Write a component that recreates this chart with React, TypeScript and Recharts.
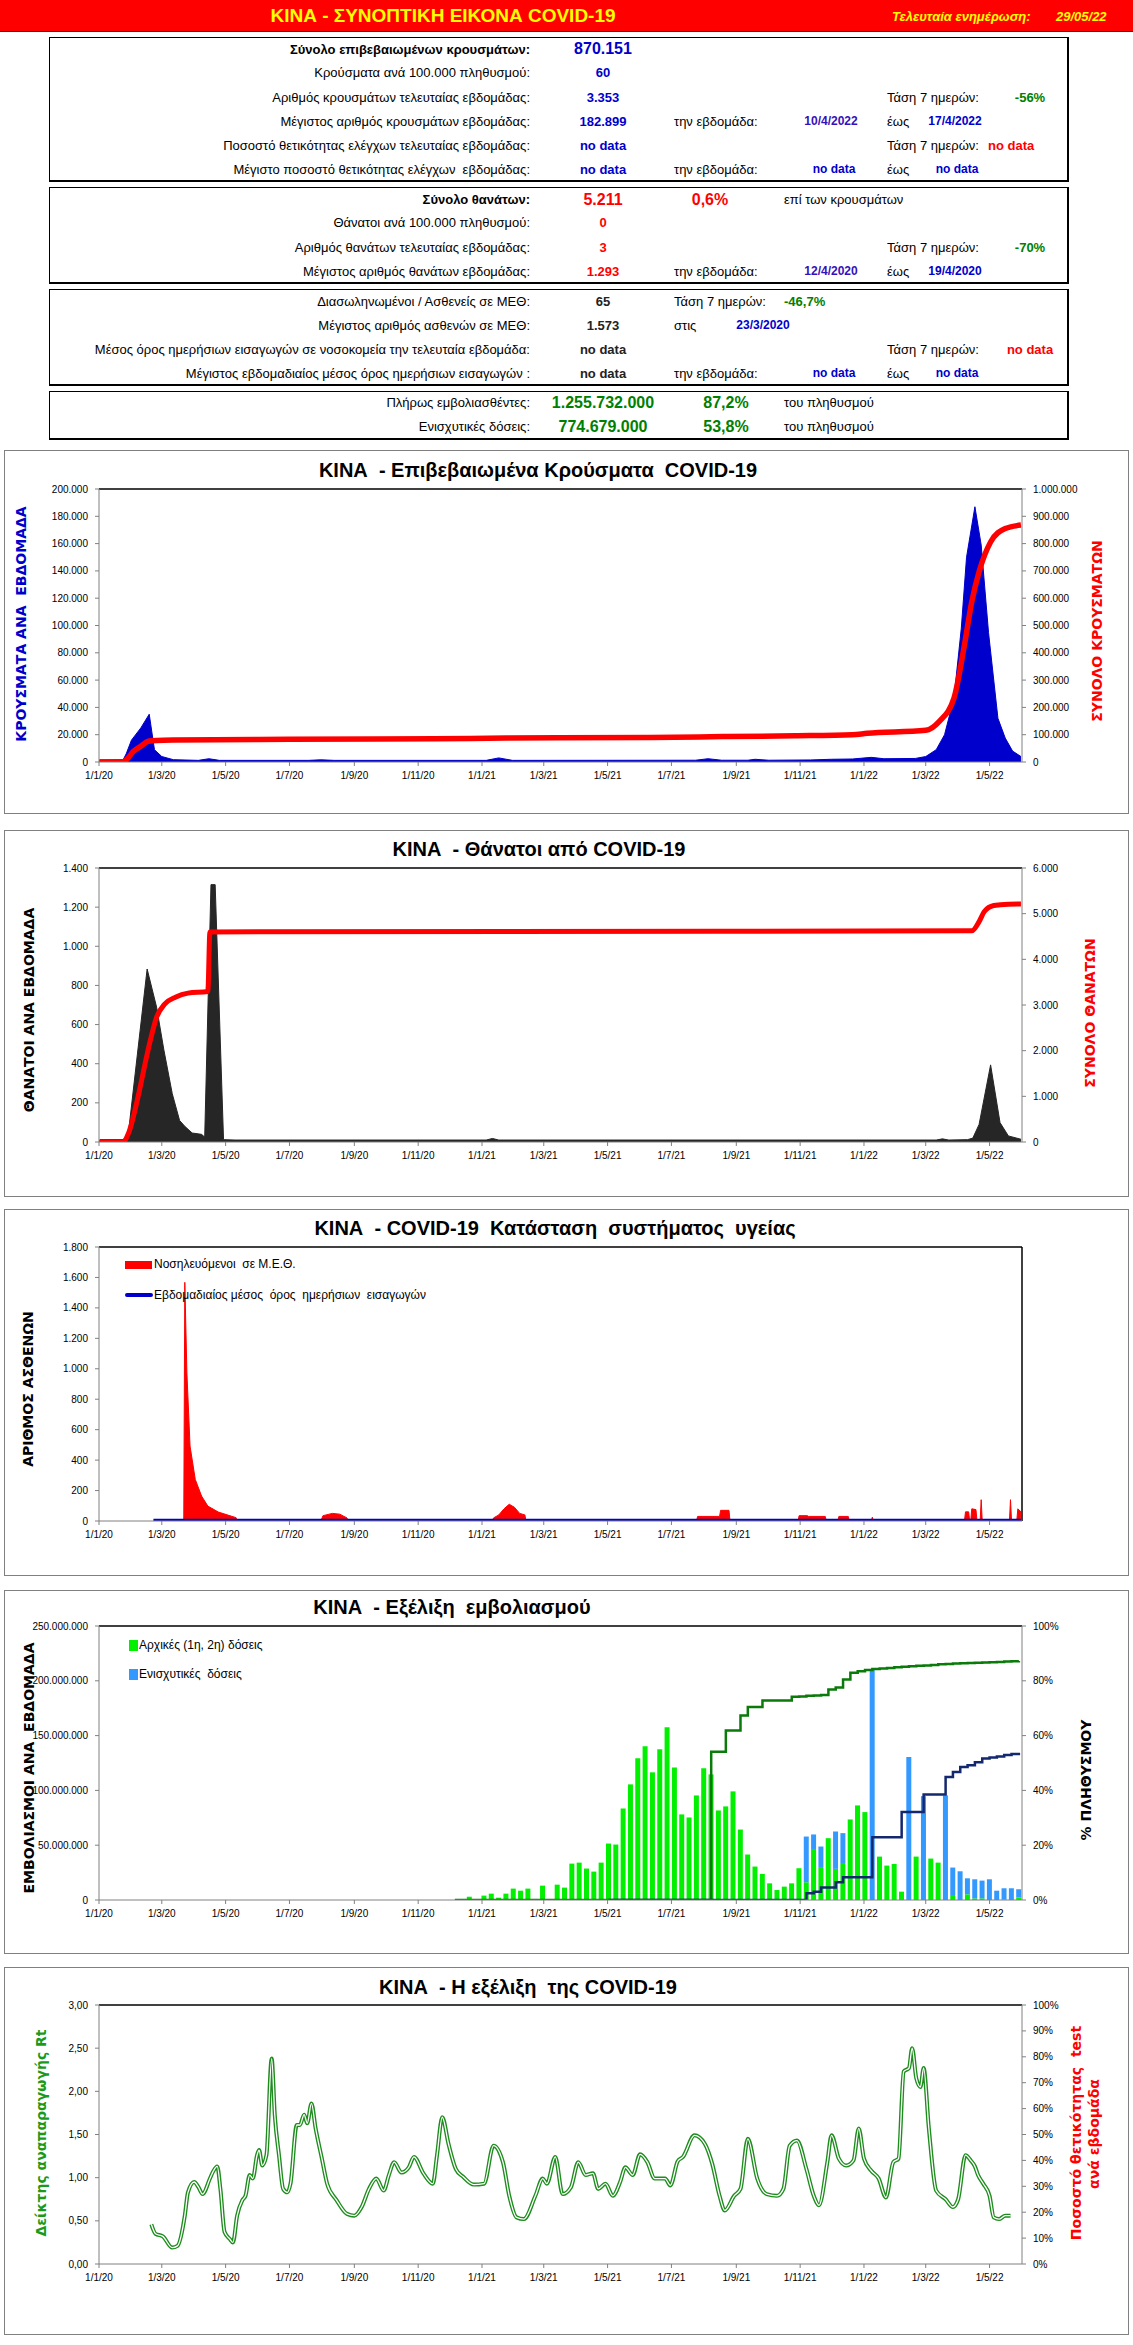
import React from "react";
import { ComposedChart, Area, Line, Bar, XAxis, YAxis, ReferenceLine } from "recharts";

// x axis is "days since 1/1/2020"
const monthTicks = [0, 60, 121, 182, 244, 305, 366, 425, 486, 547, 609, 670, 731, 790, 851];
const monthLabels = ["1/1/20", "1/3/20", "1/5/20", "1/7/20", "1/9/20", "1/11/20", "1/1/21", "1/3/21", "1/5/21", "1/7/21", "1/9/21", "1/11/21", "1/1/22", "1/3/22", "1/5/22"];
const lastDay = 882;

// chart 1 - cases
const caseDays = [1, 23, 26, 31, 40, 48, 53, 60, 71, 95, 105, 115, 200, 212, 225, 370, 382, 395, 570, 582, 595, 620, 627, 640, 680, 700, 720, 738, 750, 780, 790, 800, 808, 817, 824, 829, 837, 843, 850, 859, 866, 873, 881];
const weeklyCases = [1500, 1500, 6000, 16000, 25000, 35000, 9000, 4000, 1700, 1200, 2400, 1200, 1200, 1600, 1200, 1200, 3000, 1200, 1300, 2400, 1300, 1300, 2000, 1300, 1500, 2000, 2200, 3400, 2400, 2600, 4000, 9000, 20000, 47000, 98000, 150000, 187000, 159000, 95000, 32000, 17500, 8000, 4000];
const totalCaseDays = [0, 23, 26, 33, 40, 47, 55, 71, 182, 320, 389, 527, 596, 665, 720, 734, 790, 803, 817, 827, 834, 841, 852, 866, 881];
const totalCases = [0, 500, 8000, 39000, 58000, 76000, 79000, 80500, 83000, 85000, 88000, 90000, 93000, 96000, 100000, 105000, 116000, 149000, 234000, 429000, 587000, 697000, 806000, 855000, 868000];

// chart 2 - deaths
const deathDays = [1, 23, 28, 46, 55, 62, 70, 77, 82, 89, 98, 101, 107, 111, 119, 130, 370, 376, 382, 800, 806, 812, 830, 835, 841, 852, 861, 869, 881];
const weeklyDeaths = [12, 12, 42, 884, 690, 470, 247, 110, 80, 46, 39, 25, 1315, 1315, 12, 10, 10, 18, 10, 10, 16, 10, 12, 20, 90, 394, 99, 31, 14];
const totalDeathDays = [0, 23, 28, 38, 44, 49, 55, 63, 73, 85, 104, 106, 834, 841, 846, 855, 869, 881];
const totalDeaths = [0, 0, 180, 1060, 1710, 2220, 2730, 3025, 3170, 3260, 3295, 4600, 4625, 4826, 5046, 5178, 5208, 5211];

// chart 3 - ICU
const icuDays = [81, 82, 84, 87, 92, 98, 104, 114, 124, 131, 132, 212, 214, 223, 230, 237, 238, 376, 377, 382, 387, 392, 397, 402, 407, 408, 571, 572, 593, 594, 602, 603, 668, 669, 677, 678, 694, 695, 706, 707, 716, 717, 738, 739, 740, 827, 828, 831, 832, 833, 834, 838, 839, 842, 843, 844, 870, 871, 872, 877, 878, 881];
const icuPatients = [0, 1568, 973, 492, 273, 164, 98, 59, 37, 22, 0, 0, 35, 50, 45, 20, 0, 0, 20, 40, 80, 110, 90, 50, 40, 0, 0, 30, 30, 70, 70, 0, 0, 35, 35, 30, 30, 0, 0, 30, 30, 0, 0, 25, 0, 0, 60, 60, 0, 0, 80, 75, 0, 0, 140, 0, 0, 140, 0, 0, 80, 60];
const admitDays = [52, 881];
const admissions = [0, 0];

// chart 4 - vaccination, weekly (doses in millions, coverage in %)
const vaxWeeks = Array.from({ length: 78 }, (_, i) => 340 + 7 * i);
const initialDoses = [0, 0, 3.0, 0, 4.0, 5.8, 2.1, 5.8, 10.4, 8.5, 10.4, 0, 13.1, 0, 14.0, 11.3, 33.2, 34.1, 28.7, 25.9, 34.1, 51.5, 50.6, 83.5, 105.5, 129.3, 140.3, 116.5, 137.5, 157.6, 121.0, 78.1, 75.3, 95.4, 120.1, 114.6, 81.7, 85.4, 99.1, 64.3, 41.5, 30.5, 23.8, 15.2, 9.1, 12.2, 15.2, 29.0, 16.2, 45.7, 29.3, 56.4, 28.4, 32.9, 73.5, 86.3, 80.2, 0, 39.6, 31.4, 32.9, 7.6, 0, 39.6, 0, 37.8, 34.1, 0, 3.7, 0, 5.2, 1.5, 1.5, 0, 0, 0.6, 0, 2.4];
const boosterDoses = [0, 0, 0, 0, 0, 0, 0, 0, 0, 0, 0, 0, 0, 0, 0, 0, 0, 0, 0, 0, 0, 0, 0, 0, 0, 0, 0, 0, 0, 0, 0, 0, 0, 0, 0, 0, 0, 0, 0, 0, 0, 0, 0, 0, 0, 0, 0, 0, 41.7, 14.1, 19.5, 0, 34.1, 28.1, 0, 0, 0, 209.8, 0, 0, 0, 0, 130.5, 0, 94.8, 0, 0, 95.4, 25.9, 26.2, 14.6, 17.4, 16.2, 18.9, 8.5, 10.1, 10.7, 7.4];
const fullyPct = [0, 0, 0, 0, 0, 0, 0, 0, 0, 0, 0, 0, 0, 0, 0, 0, 0, 0, 0, 0, 0, 0, 0, 0, 0, 0, 0, 0, 0, 0, 0, 0, 0, 0, 0, 54.1, 54.1, 61.9, 61.9, 67.3, 70.4, 70.4, 72.8, 72.8, 72.8, 72.8, 74.2, 74.3, 74.5, 74.6, 74.8, 76.8, 77.6, 80.5, 82.9, 83.5, 83.9, 84.3, 84.5, 84.7, 84.9, 85.1, 85.3, 85.5, 85.6, 85.8, 86.0, 86.1, 86.3, 86.4, 86.5, 86.6, 86.7, 86.8, 86.9, 87.0, 87.1, 87.2];
const boosterPct = [null, null, null, null, null, null, null, null, null, null, null, null, null, null, null, null, null, null, null, null, null, 0, 0, 0, 0, 0, 0, 0, 0, 0, 0, 0, 0, 0, 0, 0, 0, 0, 0, 0, 0, 0, 0, 0, 0, 0, 0, 0, 2.5, 3.0, 4.6, 4.6, 6.5, 8.3, 8.3, 8.3, 8.3, 22.9, 22.9, 22.9, 22.9, 32.1, 32.1, 32.1, 38.5, 38.5, 38.5, 44.9, 46.7, 48.5, 49.2, 50.3, 51.6, 52.0, 52.4, 52.9, 53.3, 53.7];

// chart 5 - Rt
const rtDays = [50, 54, 61, 70, 75, 82, 85, 91, 95, 99, 106, 109, 113, 116, 120, 125, 128, 132, 137, 140, 144, 147, 151, 153, 156, 160, 165, 168, 172, 176, 180, 183, 189, 192, 196, 199, 203, 207, 213, 218, 227, 237, 244, 251, 258, 265, 272, 277, 282, 289, 296, 301, 310, 319, 323, 328, 334, 341, 348, 358, 368, 377, 386, 392, 399, 406, 417, 424, 428, 436, 443, 451, 458, 465, 472, 477, 484, 491, 498, 503, 510, 517, 524, 531, 541, 546, 553, 558, 569, 579, 586, 593, 598, 607, 613, 620, 629, 638, 648, 654, 660, 667, 676, 683, 688, 696, 700, 707, 714, 721, 726, 731, 738, 745, 752, 759, 764, 769, 774, 777, 781, 785, 788, 793, 800, 809, 816, 821, 828, 833, 837, 840, 845, 851, 855, 860, 866, 871];
const rtValues = [0.46, 0.35, 0.32, 0.19, 0.21, 0.56, 0.83, 0.95, 0.89, 0.81, 0.99, 1.07, 1.13, 0.87, 0.37, 0.29, 0.25, 0.56, 0.74, 0.79, 1.03, 0.99, 1.26, 1.32, 1.14, 1.26, 2.38, 1.72, 1.26, 0.87, 0.83, 0.93, 1.61, 1.61, 1.73, 1.63, 1.86, 1.57, 1.22, 0.93, 0.74, 0.58, 0.56, 0.66, 0.87, 0.99, 0.85, 1.03, 1.18, 1.06, 1.12, 1.24, 1.05, 0.93, 1.26, 1.7, 1.39, 1.1, 1.01, 0.92, 0.93, 1.37, 1.18, 0.79, 0.54, 0.52, 0.79, 0.99, 0.93, 1.24, 0.81, 0.89, 1.18, 1.03, 1.05, 0.87, 0.93, 0.79, 0.95, 1.12, 1.03, 1.27, 1.18, 0.99, 0.99, 0.91, 1.19, 1.24, 1.49, 1.39, 1.16, 0.79, 0.62, 0.79, 0.87, 1.45, 0.99, 0.81, 0.79, 0.87, 1.37, 1.43, 1.1, 0.79, 0.68, 1.18, 1.49, 1.22, 1.14, 1.2, 1.57, 1.22, 1.08, 0.99, 0.77, 1.18, 1.22, 2.23, 2.27, 2.5, 2.15, 2.05, 2.27, 1.57, 0.85, 0.75, 0.66, 0.75, 1.26, 1.2, 1.13, 1.03, 0.93, 0.79, 0.54, 0.52, 0.56, 0.56];

// axis ticks
const caseTicks = [0, 20000, 40000, 60000, 80000, 100000, 120000, 140000, 160000, 180000, 200000];
const totalCaseTicks = [0, 100000, 200000, 300000, 400000, 500000, 600000, 700000, 800000, 900000, 1000000];
const deathTicks = [0, 200, 400, 600, 800, 1000, 1200, 1400];
const totalDeathTicks = [0, 1000, 2000, 3000, 4000, 5000, 6000];
const icuTicks = [0, 200, 400, 600, 800, 1000, 1200, 1400, 1600, 1800];
const doseTicks = [0, 50, 100, 150, 200, 250];
const pct20Ticks = [0, 20, 40, 60, 80, 100];
const rtTicks = [0, 0.5, 1, 1.5, 2, 2.5, 3];
const pct10Ticks = [0, 10, 20, 30, 40, 50, 60, 70, 80, 90, 100];

type Series = Record<string, [number[], (number | null)[]]>;
function buildRows(series: Series) {
  const map = new Map<number, any>();
  for (const key of Object.keys(series)) {
    const [days, vals] = series[key];
    days.forEach((d, i) => {
      const row = map.get(d) ?? { day: d };
      row[key] = vals[i];
      map.set(d, row);
    });
  }
  return [...map.values()].sort((a, b) => a.day - b.day);
}

const casesRows = buildRows({ weekly: [caseDays, weeklyCases], total: [totalCaseDays, totalCases] });
const deathRows = buildRows({ weekly: [deathDays, weeklyDeaths], total: [totalDeathDays, totalDeaths] });
const icuRows = buildRows({ icu: [icuDays, icuPatients], admit: [admitDays, admissions] });
const vaxRows = buildRows({ initial: [vaxWeeks, initialDoses], booster: [vaxWeeks, boosterDoses], full: [vaxWeeks, fullyPct], boost: [vaxWeeks, boosterPct] });
const rtRows = buildRows({ rt: [rtDays, rtValues] });

const FONT = "'Liberation Sans', Arial, sans-serif";
const axisStroke = "#808080";
const tickStyle = { fontSize: 10, fill: "#000", fontFamily: FONT };
const dots = (n: number) => Math.round(n).toString().replace(/\B(?=(\d{3})+(?!\d))/g, ".");
const dayLabel = (d: number) => {
  const i = monthTicks.indexOf(d);
  return i >= 0 ? monthLabels[i] : "";
};

function timeAxis() {
  return (
    <XAxis
      dataKey="day"
      type="number"
      domain={[0, lastDay]}
      ticks={monthTicks}
      tickFormatter={dayLabel}
      allowDataOverflow
      interval={0}
      tick={tickStyle}
      tickLine={{ stroke: axisStroke }}
      axisLine={{ stroke: axisStroke }}
      tickSize={4}
      tickMargin={6}
      height={30}
    />
  );
}

function valueAxis(id: string, side: "left" | "right", max: number, ticks: number[], fmt: (v: number) => string) {
  return (
    <YAxis
      yAxisId={id}
      orientation={side}
      type="number"
      domain={[0, max]}
      ticks={ticks}
      interval={0}
      allowDataOverflow
      tickFormatter={fmt}
      tick={tickStyle}
      tickLine={{ stroke: axisStroke }}
      axisLine={{ stroke: axisStroke }}
      tickSize={4}
      tickMargin={7}
      width={side === "left" ? 94 : 80}
    />
  );
}

type TProps = { x: number; y: number; align?: "left" | "right" | "center"; color?: string; size?: number; bold?: boolean; italic?: boolean; children: React.ReactNode };
function T({ x, y, align = "left", color = "#000", size = 13, bold, italic, children }: TProps) {
  const tx = align === "left" ? "0" : align === "right" ? "-100%" : "-50%";
  return (
    <div style={{ position: "absolute", left: x, top: y, transform: `translate(${tx}, -50%)`, color, fontSize: size, fontWeight: bold ? 700 : 400, fontStyle: italic ? "italic" : "normal", whiteSpace: "pre", lineHeight: 1.15, fontFamily: FONT }}>
      {children}
    </div>
  );
}

function VText({ x, y, color = "#000", size = 14, children }: { x: number; y: number; color?: string; size?: number; children: React.ReactNode }) {
  return (
    <div style={{ position: "absolute", left: x, top: y, transform: "translate(-50%, -50%) rotate(-90deg)", color, fontSize: size, fontWeight: 700, whiteSpace: "pre", lineHeight: 1.1, fontFamily: "'DejaVu Sans', Verdana, sans-serif" }}>
      {children}
    </div>
  );
}

function Frame({ top, height, children }: { top: number; height: number; children: React.ReactNode }) {
  return (
    <div style={{ position: "absolute", left: 4, top, width: 1125, height, border: "1px solid #808080", boxSizing: "border-box", background: "#fff" }}>
      {children}
    </div>
  );
}

function Box({ top, bottom }: { top: number; bottom: number }) {
  return <div style={{ position: "absolute", left: 49, top, width: 1020, height: bottom - top, borderStyle: "solid", borderColor: "#000", borderWidth: "1px 2px 2px 1px", boxSizing: "border-box" }} />;
}

const BLUE = "#0000CC";
const DATE = "#3311BB";
const GREEN = "#008000";
const RED = "#FF0000";
const LBL = 530;
const VAL = 603;

export default function App() {
  return (
    <div style={{ position: "relative", width: 1133, height: 2345, background: "#fff", overflow: "hidden", fontFamily: FONT }}>
      <style>{`body{margin:0}`}</style>

      {/* summary header */}
      <div style={{ position: "absolute", left: 0, top: 0, width: 1133, height: 31, background: "#FF0000", borderBottom: "1px solid #700" }} />
      <T x={443} y={16} align="center" color="#FFFF00" size={19} bold>ΚΙΝΑ - ΣΥΝΟΠΤΙΚΗ ΕΙΚΟΝΑ COVID-19</T>
      <T x={892} y={17} color="#FFFF00" size={13} bold italic>Τελευταία ενημέρωση:</T>
      <T x={1056} y={17} color="#FFFF00" size={13} bold italic>29/05/22</T>

      <Box top={37} bottom={182} />
      <T x={LBL} y={50} align="right" bold>Σύνολο επιβεβαιωμένων κρουσμάτων:</T>
      <T x={VAL} y={49} align="center" color={BLUE} size={16} bold>870.151</T>
      <T x={LBL} y={73} align="right">Κρούσματα ανά 100.000 πληθυσμού:</T>
      <T x={VAL} y={73} align="center" color={BLUE} bold>60</T>
      <T x={LBL} y={98} align="right">Αριθμός κρουσμάτων τελευταίας εβδομάδας:</T>
      <T x={VAL} y={98} align="center" color={BLUE} bold>3.353</T>
      <T x={887} y={98}>Τάση 7 ημερών:</T>
      <T x={1030} y={98} align="center" color={GREEN} bold>-56%</T>
      <T x={LBL} y={122} align="right">Μέγιστος αριθμός κρουσμάτων εβδομάδας:</T>
      <T x={VAL} y={122} align="center" color={BLUE} bold>182.899</T>
      <T x={674} y={122}>την εβδομάδα:</T>
      <T x={831} y={122} align="center" color={DATE} size={12} bold>10/4/2022</T>
      <T x={887} y={122}>έως</T>
      <T x={955} y={122} align="center" color={BLUE} size={12} bold>17/4/2022</T>
      <T x={LBL} y={146} align="right">Ποσοστό θετικότητας ελέγχων τελευταίας εβδομάδας:</T>
      <T x={VAL} y={146} align="center" color={BLUE} bold>no data</T>
      <T x={887} y={146}>Τάση 7 ημερών:</T>
      <T x={988} y={146} color={RED} bold>no data</T>
      <T x={LBL} y={170} align="right">Μέγιστο ποσοστό θετικότητας ελέγχων  εβδομάδας:</T>
      <T x={VAL} y={170} align="center" color={BLUE} bold>no data</T>
      <T x={674} y={170}>την εβδομάδα:</T>
      <T x={834} y={170} align="center" color={BLUE} size={12} bold>no data</T>
      <T x={887} y={170}>έως</T>
      <T x={957} y={170} align="center" color={BLUE} size={12} bold>no data</T>

      <Box top={187} bottom={284} />
      <T x={LBL} y={200} align="right" bold>Σύνολο θανάτων:</T>
      <T x={VAL} y={200} align="center" color={RED} size={16} bold>5.211</T>
      <T x={710} y={200} align="center" color={RED} size={16} bold>0,6%</T>
      <T x={784} y={200}>επί των κρουσμάτων</T>
      <T x={LBL} y={223} align="right">Θάνατοι ανά 100.000 πληθυσμού:</T>
      <T x={VAL} y={223} align="center" color={RED} bold>0</T>
      <T x={LBL} y={248} align="right">Αριθμός θανάτων τελευταίας εβδομάδας:</T>
      <T x={VAL} y={248} align="center" color={RED} bold>3</T>
      <T x={887} y={248}>Τάση 7 ημερών:</T>
      <T x={1030} y={248} align="center" color={GREEN} bold>-70%</T>
      <T x={LBL} y={272} align="right">Μέγιστος αριθμός θανάτων εβδομάδας:</T>
      <T x={VAL} y={272} align="center" color={RED} bold>1.293</T>
      <T x={674} y={272}>την εβδομάδα:</T>
      <T x={831} y={272} align="center" color={DATE} size={12} bold>12/4/2020</T>
      <T x={887} y={272}>έως</T>
      <T x={955} y={272} align="center" color={BLUE} size={12} bold>19/4/2020</T>

      <Box top={289} bottom={386} />
      <T x={LBL} y={302} align="right">Διασωληνωμένοι / Ασθενείς σε ΜΕΘ:</T>
      <T x={VAL} y={302} align="center" color="#222" bold>65</T>
      <T x={674} y={302}>Τάση 7 ημερών:</T>
      <T x={784} y={302} color={GREEN} bold>-46,7%</T>
      <T x={LBL} y={326} align="right">Μέγιστος αριθμός ασθενών σε ΜΕΘ:</T>
      <T x={VAL} y={326} align="center" color="#222" bold>1.573</T>
      <T x={674} y={326}>στις</T>
      <T x={763} y={326} align="center" color={BLUE} size={12} bold>23/3/2020</T>
      <T x={LBL} y={350} align="right">Μέσος όρος ημερήσιων εισαγωγών σε νοσοκομεία την τελευταία εβδομάδα:</T>
      <T x={VAL} y={350} align="center" color="#222" bold>no data</T>
      <T x={887} y={350}>Τάση 7 ημερών:</T>
      <T x={1030} y={350} align="center" color={RED} bold>no data</T>
      <T x={LBL} y={374} align="right">Μέγιστος εβδομαδιαίος μέσος όρος ημερήσιων εισαγωγών :</T>
      <T x={VAL} y={374} align="center" color="#222" bold>no data</T>
      <T x={674} y={374}>την εβδομάδα:</T>
      <T x={834} y={374} align="center" color={BLUE} size={12} bold>no data</T>
      <T x={887} y={374}>έως</T>
      <T x={957} y={374} align="center" color={BLUE} size={12} bold>no data</T>

      <Box top={391} bottom={440} />
      <T x={LBL} y={403} align="right">Πλήρως εμβολιασθέντες:</T>
      <T x={VAL} y={403} align="center" color={GREEN} size={16} bold>1.255.732.000</T>
      <T x={726} y={403} align="center" color={GREEN} size={16} bold>87,2%</T>
      <T x={784} y={403}>του πληθυσμού</T>
      <T x={LBL} y={427} align="right">Ενισχυτικές δόσεις:</T>
      <T x={VAL} y={427} align="center" color={GREEN} size={16} bold>774.679.000</T>
      <T x={726} y={427} align="center" color={GREEN} size={16} bold>53,8%</T>
      <T x={784} y={427}>του πληθυσμού</T>

      {/* chart 1: cases */}
      <Frame top={450} height={364}>
        <ComposedChart width={1123} height={362} data={casesRows} margin={{ top: 38, right: 26, bottom: 21, left: 0 }}>
          {timeAxis()}
          {valueAxis("left", "left", 200000, caseTicks, dots)}
          {valueAxis("right", "right", 1000000, totalCaseTicks, dots)}
          <ReferenceLine yAxisId="left" y={200000} stroke="#000" strokeWidth={1.5} />
          <Area yAxisId="left" dataKey="weekly" type="linear" fill="#0000CC" fillOpacity={1} stroke="#0000CC" strokeWidth={1} connectNulls dot={false} activeDot={false} isAnimationActive={false} />
          <Line yAxisId="right" dataKey="total" type="monotone" stroke="#FF0000" strokeWidth={5.5} connectNulls dot={false} activeDot={false} isAnimationActive={false} />
        </ComposedChart>
      </Frame>
      <T x={538} y={470} align="center" size={20} bold>{"ΚΙΝΑ  - Επιβεβαιωμένα Κρούσματα  COVID-19"}</T>
      <VText x={22} y={624} color="#0000CC">{"ΚΡΟΥΣΜΑΤΑ ΑΝΑ  ΕΒΔΟΜΑΔΑ"}</VText>
      <VText x={1098} y={631} color="#FF0000">{"ΣΥΝΟΛΟ ΚΡΟΥΣΜΑΤΩΝ"}</VText>

      {/* chart 2: deaths */}
      <Frame top={830} height={367}>
        <ComposedChart width={1123} height={365} data={deathRows} margin={{ top: 37, right: 26, bottom: 24, left: 0 }}>
          {timeAxis()}
          {valueAxis("left", "left", 1400, deathTicks, dots)}
          {valueAxis("right", "right", 6000, totalDeathTicks, dots)}
          <ReferenceLine yAxisId="left" y={1400} stroke="#000" strokeWidth={1.5} />
          <Area yAxisId="left" dataKey="weekly" type="linear" fill="#262626" fillOpacity={1} stroke="#262626" strokeWidth={1} connectNulls dot={false} activeDot={false} isAnimationActive={false} />
          <Line yAxisId="right" dataKey="total" type="monotone" stroke="#FF0000" strokeWidth={5} connectNulls dot={false} activeDot={false} isAnimationActive={false} />
        </ComposedChart>
      </Frame>
      <T x={539} y={849} align="center" size={20} bold>{"ΚΙΝΑ  - Θάνατοι από COVID-19"}</T>
      <VText x={30} y={1010}>{"ΘΑΝΑΤΟΙ ΑΝΑ ΕΒΔΟΜΑΔΑ"}</VText>
      <VText x={1091} y={1013} color="#FF0000">{"ΣΥΝΟΛΟ ΘΑΝΑΤΩΝ"}</VText>

      {/* chart 3: health system */}
      <Frame top={1209} height={367}>
        <ComposedChart width={1123} height={365} data={icuRows} margin={{ top: 37, right: 106, bottom: 24, left: 0 }}>
          {timeAxis()}
          {valueAxis("left", "left", 1800, icuTicks, dots)}
          <ReferenceLine yAxisId="left" y={1800} stroke="#000" strokeWidth={1.5} />
          <ReferenceLine yAxisId="left" x={lastDay} stroke="#000" strokeWidth={1.5} />
          <Area yAxisId="left" dataKey="icu" type="linear" fill="#FF0000" fillOpacity={1} stroke="#FF0000" strokeWidth={1} connectNulls dot={false} activeDot={false} isAnimationActive={false} />
          <Line yAxisId="left" dataKey="admit" type="linear" stroke="#0000CC" strokeWidth={4.5} connectNulls dot={false} activeDot={false} isAnimationActive={false} />
        </ComposedChart>
      </Frame>
      <T x={555} y={1228} align="center" size={20} bold>{"ΚΙΝΑ  - COVID-19  Κατάσταση  συστήματος  υγείας"}</T>
      <VText x={29} y={1389}>{"ΑΡΙΘΜΟΣ ΑΣΘΕΝΩΝ"}</VText>
      <div style={{ position: "absolute", left: 125, top: 1261, width: 27, height: 8, background: "#FF0000" }} />
      <T x={154} y={1265} size={12}>{"Νοσηλευόμενοι  σε Μ.Ε.Θ."}</T>
      <div style={{ position: "absolute", left: 125, top: 1293, width: 28, height: 4, borderRadius: 2, background: "#0000CC" }} />
      <T x={154} y={1296} size={12}>{"Εβδομαδιαίος μέσος  όρος  ημερήσιων  εισαγωγών"}</T>

      {/* chart 4: vaccination */}
      <Frame top={1590} height={364}>
        <ComposedChart width={1123} height={362} data={vaxRows} margin={{ top: 35, right: 26, bottom: 23, left: 0 }}>
          {timeAxis()}
          {valueAxis("left", "left", 250, doseTicks, (v) => dots(v * 1000000))}
          {valueAxis("right", "right", 100, pct20Ticks, (v) => `${v}%`)}
          <ReferenceLine yAxisId="left" y={250} stroke="#000" strokeWidth={1.5} />
          <Bar yAxisId="left" dataKey="initial" stackId="v" fill="#00F000" barSize={5} isAnimationActive={false} />
          <Bar yAxisId="left" dataKey="booster" stackId="v" fill="#3399FF" barSize={5} isAnimationActive={false} />
          <Line yAxisId="right" dataKey="full" type="stepAfter" stroke="#0A7A0A" strokeWidth={2.5} dot={false} activeDot={false} isAnimationActive={false} />
          <Line yAxisId="right" dataKey="boost" type="stepAfter" stroke="#14286E" strokeWidth={2.5} dot={false} activeDot={false} isAnimationActive={false} />
        </ComposedChart>
      </Frame>
      <T x={452} y={1607} align="center" size={20} bold>{"ΚΙΝΑ  - Εξέλιξη  εμβολιασμού"}</T>
      <VText x={30} y={1768}>{"ΕΜΒΟΛΙΑΣΜΟΙ ΑΝΑ  ΕΒΔΟΜΑΔΑ"}</VText>
      <VText x={1087} y={1780}>{"% ΠΛΗΘΥΣΜΟΥ"}</VText>
      <div style={{ position: "absolute", left: 129, top: 1640, width: 9, height: 11, background: "#00F000" }} />
      <T x={139} y={1646} size={12}>{"Αρχικές (1η, 2η) δόσεις"}</T>
      <div style={{ position: "absolute", left: 129, top: 1669, width: 9, height: 11, background: "#3399FF" }} />
      <T x={139} y={1675} size={12}>{"Ενισχυτικές  δόσεις"}</T>

      {/* chart 5: Rt */}
      <Frame top={1967} height={368}>
        <ComposedChart width={1123} height={366} data={rtRows} margin={{ top: 37, right: 26, bottom: 40, left: 0 }}>
          {timeAxis()}
          {valueAxis("left", "left", 3, rtTicks, (v) => v.toFixed(2).replace(".", ","))}
          {valueAxis("right", "right", 100, pct10Ticks, (v) => `${v}%`)}
          <ReferenceLine yAxisId="left" y={3} stroke="#000" strokeWidth={1.5} />
          <Line yAxisId="left" dataKey="rt" type="monotone" stroke="#1E8C1E" strokeWidth={4} connectNulls dot={false} activeDot={false} isAnimationActive={false} />
          <Line yAxisId="left" dataKey="rt" type="monotone" stroke="#FFFFFF" strokeWidth={1.3} connectNulls dot={false} activeDot={false} isAnimationActive={false} />
        </ComposedChart>
      </Frame>
      <T x={528} y={1987} align="center" size={20} bold>{"ΚΙΝΑ  - Η εξέλιξη  της COVID-19"}</T>
      <VText x={42} y={2133} color="#1A9A1A">{"Δείκτης αναπαραγωγής Rt"}</VText>
      <VText x={1077} y={2133} color="#FF0000">{"Ποσοστό θετικότητας  test"}</VText>
      <VText x={1095} y={2134} color="#FF0000">{"ανά εβδομάδα"}</VText>
    </div>
  );
}
